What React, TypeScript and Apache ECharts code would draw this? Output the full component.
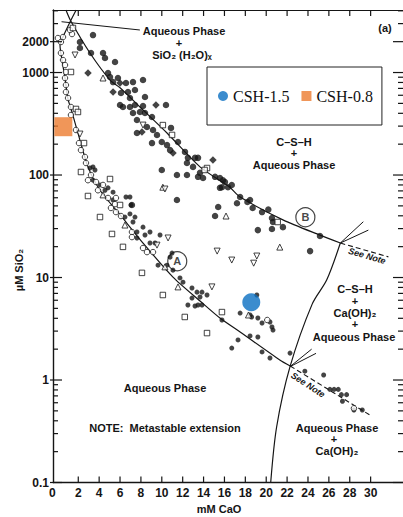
import React, { useEffect, useRef } from 'react';
import * as echarts from 'echarts';

// ---- axis extents ----
const X_MIN = -0.42;
const X_MAX = 33.1;
const Y_MIN = 0.1;
const Y_MAX = 4074;

// ---- tick values / labels ----
const xTickValues = [2, 4, 6, 8, 10, 12, 14, 16, 18, 20, 22, 24, 26, 28, 30];
const xTickLabels = [0, 2, 4, 6, 8, 10, 12, 14, 16, 18, 20, 22, 24, 26, 28, 30];
const yMajorTicks = [0.1, 1, 10, 100, 1000, 2000];
const yMinorTicks = [
  0.2, 0.3, 0.4, 0.5, 0.6, 0.7, 0.8, 0.9,
  2, 3, 4, 5, 6, 7, 8, 9,
  20, 30, 40, 50, 60, 70, 80, 90,
  200, 300, 400, 500, 600, 700, 800, 900,
  3000, 4000,
];
const yExtraLabels = [2000];

// ---- boundary curves (mM CaO, µM SiO2) ----
const curveA = [
  [1.8, 4074], [1.27, 3200], [0.6, 2300], [0.25, 1850], [0.44, 1320], [0.73, 880],
  [1.0, 560], [1.4, 410], [2.16, 219], [2.93, 120], [4.08, 71], [6.0, 41],
  [8.2, 21.7], [11.07, 10.1], [13.66, 5.9], [15.6, 4.0], [17.5, 2.94], [21.3, 1.57], [22.3, 1.37],
];
const curveAExt = [[22.3, 1.37], [29.9, 0.457]];
const curveB = [
  [0.82, 4074], [1.27, 3200], [3.12, 1550], [5.04, 845], [6.0, 710], [7.91, 461],
  [10.5, 257], [13.66, 120], [16.5, 76], [17.5, 61], [21.6, 36.5], [25.15, 25.9], [27.1, 21.7],
];
const curveBExt = [[27.1, 21.7], [31.7, 15.9]];
const curveC = [
  [20.43, 0.1], [21.0, 0.35], [22.28, 1.35], [24.4, 5.5], [25.8, 9.5], [27.1, 21.7],
];
const arrows = [
  [[27.1, 21.7], [29.3, 35]],
  [[27.1, 21.7], [29.78, 29]],
  [[22.28, 1.35], [24.35, 2.0]],
  [[22.28, 1.35], [24.77, 1.82]],
  [[7.9, 2600], [0.4, 3130]],
];

// ---- measured points ----
const dotsUpper = [
  [2.16, 1985], [2.16, 1735], [3.41, 2320], [3.22, 1550], [4.37, 1550], [4.56, 1385], [5.52, 1266],
  [4.85, 989], [5.04, 904], [5.8, 884], [5.33, 807], [6.57, 790], [7.24, 807], [8.2, 845],
  [6.09, 631], [6.76, 645], [7.43, 675], [6.95, 564], [8.39, 577], [6.0, 482], [6.28, 461],
  [6.95, 461], [7.43, 482], [8.2, 471], [10.4, 482], [7.24, 403], [7.91, 412], [8.39, 403],
  [9.06, 368], [7.62, 344], [8.58, 294], [7.62, 257], [9.16, 275], [9.54, 246], [10.0, 210],
  [9.06, 205], [10.5, 196], [11.55, 210], [10.79, 175], [12.22, 168], [12.5, 147], [13.18, 147],
  [13.47, 147], [12.41, 131], [12.99, 120], [13.66, 105], [10.0, 112], [11.45, 100], [12.41, 100],
  [13.47, 96], [13.95, 93.5], [15.1, 96], [15.57, 93.5], [15.86, 89], [16.34, 76], [15.57, 75],
  [16.05, 85.5], [15.76, 76], [16.7, 80], [17.5, 61], [17.2, 53], [18.2, 54.5], [18.45, 57],
  [18.7, 47.7], [19.6, 43.5], [20.2, 46], [20.55, 38], [20.65, 34.8], [21.6, 31], [25.15, 25.4],
  [15.4, 48.7], [15.1, 39.8], [19.2, 29], [20.55, 29.7], [24.2, 18.1], [10.88, 288], [11.45, 57],
  [7.14, 51],
];
const diamonds = [[2.93, 989], [5.33, 645], [8.1, 263], [14.9, 140], [11.07, 164], [9.44, 482], [6.0, 790]];
const dotsLower = [
  [3.12, 117], [3.41, 120], [3.6, 112], [3.41, 89], [4.08, 80], [4.56, 71], [4.85, 75], [5.33, 68],
  [5.33, 57], [6.57, 61], [6.95, 61], [7.05, 51], [6.47, 38.9], [6.95, 41.7], [7.43, 38.9],
  [7.24, 34.8], [7.62, 27.8], [8.2, 31], [8.87, 27.8], [9.83, 26], [8.39, 26], [7.62, 24.3],
  [8.87, 21.7], [9.35, 21.7], [10.98, 17.3], [10.79, 15.8], [9.64, 13.2], [10.5, 13.2], [11.07, 11.8],
  [11.74, 9.9], [12.03, 9.0], [12.89, 7.9], [13.37, 7.2], [13.85, 7.2], [14.33, 6.75], [12.89, 6.3],
  [13.66, 6.45], [12.5, 5.39], [13.18, 5.27], [13.47, 5.39], [13.85, 5.39], [17.5, 4.5], [18.6, 4.12],
  [19.2, 4.03], [19.1, 6.75], [18.45, 4.31], [19.6, 3.6], [20.55, 3.29], [20.36, 3.68], [15.76, 3.85],
  [18.45, 2.69], [19.2, 2.63], [17.3, 2.46], [16.7, 2.05], [19.6, 1.88], [20.36, 1.64], [22.28, 1.83],
  [20.65, 3.07], [23.7, 1.22], [25.5, 1.12], [26.1, 0.81], [26.5, 0.81], [26.9, 0.81], [27.2, 0.72],
  [27.7, 0.72], [27.3, 0.62], [29.2, 0.51], [28.4, 0.51],
];
const openCircles = [
  [0.05, 2170], [0.34, 1985], [0.54, 2220], [0.34, 1550], [0.54, 1324], [0.73, 1183], [0.82, 1012],
  [0.73, 884], [0.82, 755], [0.82, 645], [1.02, 564], [1.3, 461], [1.4, 2375], [1.21, 2600],
  [1.3, 385], [1.78, 275], [2.07, 205], [2.26, 175], [2.64, 150], [2.74, 131], [3.22, 100],
  [2.93, 89], [3.7, 85.5], [4.37, 80], [3.89, 71], [4.85, 59.7], [5.61, 59.7], [5.52, 52],
  [5.13, 47.7], [5.61, 43.5], [6.09, 39.8], [7.14, 27.8], [7.14, 24.8], [8.2, 19.4], [8.58, 17.7],
  [9.16, 17.7], [20.1, 3.85], [28.4, 0.53],
];
const openSquares = [
  [1.49, 2720], [1.3, 1012], [1.78, 441], [1.97, 412], [2.55, 205], [2.26, 107], [5.04, 91.4],
  [6.0, 51], [2.93, 62.4], [4.08, 38.9], [5.23, 26.6], [6.28, 19.9], [8.1, 11.1], [10.1, 6.75],
  [12.2, 4.12], [15.76, 4.6], [14.33, 2.87], [10.1, 307], [10.98, 246], [14.33, 117], [14.1, 112],
  [21.1, 34.8],
];
const upTriangles = [
  [4.37, 64], [6.47, 32.5], [10.3, 12.7], [11.55, 8.1], [18.3, 4.31], [10.1, 76], [16.15, 39.8],
  [21.3, 19.8], [4.37, 884],
];
const downTriangles = [
  [1.69, 1482], [2.16, 251], [8.2, 307], [10.3, 73], [9.54, 20.7], [10.6, 24.3], [14.8, 8.1],
  [15.3, 18.1], [16.7, 14.8], [18.8, 13.8], [19.1, 16.2],
];
const csh15 = [[18.57, 5.73]];
const csh08 = [[0.57, 296]];
const regionMarks = [
  { name: 'A', value: [11.48, 14.4] },
  { name: 'B', value: [23.75, 38.7] },
];

const INK = '#151515';
const SANS = '"Liberation Sans", Arial, Helvetica, sans-serif';

function tickSeries(data: number[][], build: (p: number[]) => any) {
  return {
    type: 'custom',
    silent: true,
    clip: false,
    z: 6,
    data,
    renderItem: (_params: any, api: any) => {
      const p = api.coord([api.value(0), api.value(1)]);
      return build(p);
    },
  };
}

function line(x1: number, y1: number, x2: number, y2: number) {
  return { type: 'line', shape: { x1, y1, x2, y2 }, style: { stroke: INK, lineWidth: 1.2 } };
}

function txt(text: string, x: number, y: number, size = 11, extra: any = {}) {
  return {
    type: 'text',
    x,
    y,
    ...extra,
    style: {
      text,
      fill: INK,
      font: `bold ${size}px ${SANS}`,
      align: 'center',
      verticalAlign: 'middle',
      ...(extra.style || {}),
    },
  };
}

export default function App() {
  const ref = useRef<HTMLDivElement>(null);
  useEffect(() => {
    if (!ref.current) return;
    const chart = echarts.init(ref.current, undefined, { renderer: 'svg' });
    const open = { color: '#fff', borderColor: INK, borderWidth: 1 };
    const option: any = {
      animation: false,
      backgroundColor: '#ffffff',
      grid: { left: 53, top: 10, right: 0, bottom: 34.5, containLabel: false },
      xAxis: [
        {
          type: 'value', min: X_MIN, max: X_MAX,
          axisLine: { show: true, onZero: false, lineStyle: { color: INK, width: 1.4 } },
          axisTick: { show: false }, axisLabel: { show: false }, splitLine: { show: false },
        },
        {
          type: 'value', position: 'top', min: X_MIN, max: X_MAX,
          axisLine: { show: true, onZero: false, lineStyle: { color: INK, width: 1.2 } },
          axisTick: { show: false }, axisLabel: { show: false }, splitLine: { show: false },
        },
      ],
      yAxis: [
        {
          type: 'log', logBase: 10, min: Y_MIN, max: Y_MAX,
          axisLine: { show: true, onZero: false, lineStyle: { color: INK, width: 1.4 } },
          axisTick: { show: false },
          splitLine: { show: false },
          axisLabel: {
            show: true, showMaxLabel: false, margin: 4, color: INK,
            fontFamily: SANS, fontWeight: 'bold', fontSize: 12,
            formatter: (v: number) => (v < 0.5 ? '0.1' : String(Math.round(v))),
          },
        },
      ],
      legend: {
        data: ['CSH-1.5', 'CSH-0.8'],
        left: 207, top: 67,
        orient: 'horizontal',
        backgroundColor: '#fff', borderColor: '#222', borderWidth: 1, borderRadius: 0,
        padding: [21, 9, 21, 11],
        itemGap: 12, itemWidth: 10, itemHeight: 10,
        selectedMode: false,
        textStyle: { fontFamily: '"Liberation Serif", "Times New Roman", serif', fontSize: 16, color: '#111' },
      },
      graphic: {
        elements: [
          txt('(a)', 385, 28, 11),
          txt('Aqueous Phase', 184, 31, 11),
          txt('+', 179, 43, 11),
          txt('SiO₂ (H₂O)ₓ', 182, 55, 11),
          txt('C–S–H', 294, 142, 11),
          txt('+', 294, 153, 11),
          txt('Aqueous Phase', 294, 165, 11),
          txt('C–S–H', 355, 289, 11),
          txt('+', 355, 301, 11),
          txt('Ca(OH)₂', 355, 313, 11),
          txt('+', 355, 324, 11),
          txt('Aqueous Phase', 354, 337, 11),
          txt('Aqueous Phase', 165, 388, 11),
          txt('NOTE:  Metastable extension', 165, 428, 11),
          txt('Aqueous Phase', 337, 428, 11),
          txt('+', 334, 439, 11),
          txt('Ca(OH)₂', 337, 451, 11),
          txt('See Note', 367, 256, 9, { rotation: -0.28, style: { font: `italic bold 9px ${SANS}` } }),
          txt('See Note', 308, 385, 9, { rotation: -0.58, style: { font: `italic bold 9px ${SANS}` } }),
          txt('mM CaO', 219, 509, 11),
          txt('µM SiO₂', 19, 270, 11, { rotation: Math.PI / 2 }),
        ],
      },
      series: [
        {
          type: 'line', data: curveA, showSymbol: false, smooth: 0.25, silent: true, z: 2,
          lineStyle: { color: INK, width: 1.2 },
        },
        {
          type: 'line', data: curveAExt, showSymbol: false, silent: true, z: 2,
          lineStyle: { color: INK, width: 1.1, type: [5, 3] },
        },
        {
          type: 'line', data: curveB, showSymbol: false, smooth: 0.25, silent: true, z: 2,
          lineStyle: { color: INK, width: 1.2 },
        },
        {
          type: 'line', data: curveBExt, showSymbol: false, silent: true, z: 2,
          lineStyle: { color: INK, width: 1.1, type: [5, 3] },
        },
        {
          type: 'line', data: curveC, showSymbol: false, smooth: 0.3, silent: true, z: 2,
          lineStyle: { color: INK, width: 1.2 },
          markLine: {
            silent: true, symbol: ['none', 'arrow'], symbolSize: [0, 7], animation: false,
            label: { show: false },
            lineStyle: { color: INK, width: 1, type: 'solid' },
            data: arrows.map((a) => [{ coord: a[0] }, { coord: a[1] }]),
          },
        },
        { type: 'scatter', data: dotsUpper, symbol: 'circle', symbolSize: 6.5, itemStyle: { color: INK }, z: 3, silent: true },
        { type: 'scatter', data: diamonds, symbol: 'diamond', symbolSize: 7.5, itemStyle: { color: INK }, z: 3, silent: true },
        { type: 'scatter', data: dotsLower, symbol: 'circle', symbolSize: 5, itemStyle: { color: INK }, z: 3, silent: true },
        { type: 'scatter', data: openCircles, symbol: 'circle', symbolSize: 5.5, itemStyle: open, z: 3, silent: true },
        { type: 'scatter', data: openSquares, symbol: 'rect', symbolSize: 5.5, itemStyle: open, z: 3, silent: true },
        { type: 'scatter', data: upTriangles, symbol: 'triangle', symbolSize: 6, itemStyle: open, z: 3, silent: true },
        { type: 'scatter', data: downTriangles, symbol: 'triangle', symbolRotate: 180, symbolSize: 6, itemStyle: open, z: 3, silent: true },
        {
          type: 'scatter', data: regionMarks, symbol: 'circle', symbolSize: 19, z: 3, silent: true,
          itemStyle: { color: 'rgba(255,255,255,0)', borderColor: INK, borderWidth: 1.2 },
          label: { show: true, position: 'inside', formatter: '{b}', color: INK, fontFamily: SANS, fontWeight: 'bold', fontSize: 11 },
        },
        {
          name: 'CSH-1.5', type: 'scatter', data: csh15, symbol: 'circle', symbolSize: 18,
          itemStyle: { color: '#0A6FC2' }, z: 10, silent: true,
        },
        {
          name: 'CSH-0.8', type: 'scatter', data: csh08, symbol: 'rect', symbolSize: [18, 19],
          itemStyle: { color: '#EC7C30' }, z: 10, silent: true,
        },
        // axis ticks
        tickSeries(yMajorTicks.map((v) => [X_MIN, v]), (p) => line(p[0] - 3, p[1], p[0] + 9, p[1])),
        tickSeries(yMinorTicks.map((v) => [X_MIN, v]), (p) => line(p[0], p[1], p[0] + 5, p[1])),
        tickSeries(yMajorTicks.map((v) => [X_MAX, v]), (p) => line(p[0] - 10, p[1], p[0], p[1])),
        tickSeries(yMinorTicks.map((v) => [X_MAX, v]), (p) => line(p[0] - 5, p[1], p[0], p[1])),
        tickSeries(xTickValues.map((v) => [v, Y_MIN]), (p) => line(p[0], p[1], p[0], p[1] - 6)),
        tickSeries(xTickValues.map((v) => [v, Y_MAX]), (p) => line(p[0], p[1], p[0], p[1] + 6)),
        {
          type: 'custom', silent: true, clip: false, z: 6,
          data: xTickLabels.map((v) => [v, Y_MIN]),
          renderItem: (_params: any, api: any) => {
            const v = api.value(0);
            const p = api.coord([v, api.value(1)]);
            return {
              type: 'text', x: p[0] + (v === 0 ? -5 : 0), y: p[1] + 10,
              style: { text: String(v), fill: INK, font: `bold 12px ${SANS}`, align: 'center', verticalAlign: 'middle' },
            };
          },
        },
        {
          type: 'custom', silent: true, clip: false, z: 6,
          data: yExtraLabels.map((v) => [X_MIN, v]),
          renderItem: (_params: any, api: any) => {
            const v = api.value(1);
            const p = api.coord([api.value(0), v]);
            return {
              type: 'text', x: p[0] - 4, y: p[1],
              style: { text: String(v), fill: INK, font: `bold 12px ${SANS}`, align: 'right', verticalAlign: 'middle' },
            };
          },
        },
      ],
    };
    chart.setOption(option);
    return () => chart.dispose();
  }, []);
  return <div ref={ref} style={{ position: 'absolute', left: 0, top: 0, width: 403, height: 517 }} />;
}
